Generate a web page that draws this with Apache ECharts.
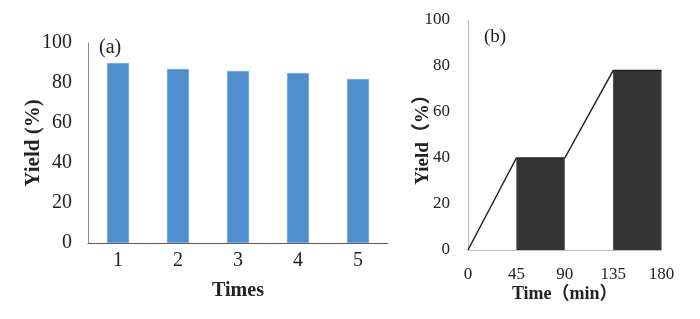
<!DOCTYPE html>
<html><head><meta charset="utf-8">
<script src="https://cdn.jsdelivr.net/npm/echarts@6/dist/echarts.min.js"></script>
<style>html,body{margin:0;padding:0;background:#fff}#c{width:700px;height:319px}</style>
</head><body><div id="c"></div>
<script>
// Panel (a)
const timesCategories = ['1', '2', '3', '4', '5'];
const yieldA = [90, 87, 86, 85, 82];
// Panel (b)
const lineTime = [0, 45, 90, 135, 180];
const lineYield = [0, 40, 40, 78, 78];
const barStart = [45, 135];
const barEnd = [90, 180];
const barYield = [40, 78];

const serif = '"Liberation Serif","Times New Roman",serif';
const nameFont = '"Liberation Serif","Noto Sans CJK SC",serif';

const chart = echarts.init(document.getElementById('c'), null, {renderer: 'canvas'});
chart.setOption({
  animation: false,
  backgroundColor: '#fff',
  title: [
    {text: '(a)', left: 94, top: 33, textStyle: {fontFamily: serif, fontSize: 20, fontWeight: 'normal', color: '#222'}},
    {text: '(b)', left: 479, top: 23, textStyle: {fontFamily: serif, fontSize: 19, fontWeight: 'normal', color: '#222'}}
  ],
  grid: [
    {left: 88, top: 43, width: 300, height: 200},
    {left: 468, top: 20, width: 193.5, height: 230}
  ],
  xAxis: [
    {
      gridIndex: 0, type: 'category', data: timesCategories, boundaryGap: true,
      name: 'Times', nameLocation: 'middle', nameGap: 38, nameMoveOverlap: false,
      nameTextStyle: {fontFamily: serif, fontSize: 20, fontWeight: 'bold', color: '#222'},
      axisLine: {lineStyle: {color: '#595959', width: 1}},
      axisTick: {show: false},
      axisLabel: {fontFamily: serif, fontSize: 20, color: '#222', margin: 8}
    },
    {
      gridIndex: 1, type: 'value', min: 0, max: 180, interval: 45,
      name: 'Time（min）', nameLocation: 'middle', nameGap: 35, nameMoveOverlap: false,
      nameTextStyle: {fontFamily: nameFont, fontSize: 18, fontWeight: 'bold', color: '#222'},
      axisLine: {lineStyle: {color: '#bfbfbf', width: 1}},
      axisTick: {show: false},
      splitLine: {show: false},
      axisLabel: {fontFamily: serif, fontSize: 17, color: '#222', margin: 16}
    }
  ],
  yAxis: [
    {
      gridIndex: 0, type: 'value', min: 0, max: 100, interval: 20,
      name: 'Yield (%)', nameLocation: 'middle', nameGap: 44, nameMoveOverlap: false,
      nameTextStyle: {fontFamily: serif, fontSize: 21, fontWeight: 'bold', color: '#222'},
      axisLine: {show: true, lineStyle: {color: '#8c8c8c', width: 1}},
      axisTick: {show: false},
      splitLine: {show: false},
      axisLabel: {fontFamily: serif, fontSize: 20, color: '#222', margin: 16}
    },
    {
      gridIndex: 1, type: 'value', min: 0, max: 100, interval: 20,
      name: 'Yield（%）', nameLocation: 'middle', nameGap: 35, nameMoveOverlap: false,
      nameTextStyle: {fontFamily: nameFont, fontSize: 19, fontWeight: 'bold', color: '#222'},
      axisLine: {show: true, lineStyle: {color: '#bfbfbf', width: 1}},
      axisTick: {show: false},
      splitLine: {show: false},
      axisLabel: {fontFamily: serif, fontSize: 17, color: '#222', margin: 18}
    }
  ],
  series: [
    {
      type: 'bar', xAxisIndex: 0, yAxisIndex: 0, data: yieldA, barWidth: 22,
      itemStyle: {color: '#4f8fcd', borderColor: '#7aaee0', borderWidth: 0.5}
    },
    {
      type: 'custom', xAxisIndex: 1, yAxisIndex: 1,
      data: barStart.map((s, i) => [s, barEnd[i], barYield[i]]),
      encode: {x: [0, 1], y: 2},
      renderItem: function (params, api) {
        const p0 = api.coord([api.value(0), api.value(2)]);
        const p1 = api.coord([api.value(1), 0]);
        return {
          type: 'rect',
          shape: {x: p0[0], y: p0[1], width: p1[0] - p0[0], height: p1[1] - p0[1]},
          style: {fill: '#353535'}
        };
      },
      z: 2
    },
    {
      type: 'line', xAxisIndex: 1, yAxisIndex: 1,
      data: lineTime.map((t, i) => [t, lineYield[i]]),
      symbol: 'none',
      lineStyle: {color: '#222', width: 1.5},
      z: 3
    }
  ]
});
</script>
</body></html>
